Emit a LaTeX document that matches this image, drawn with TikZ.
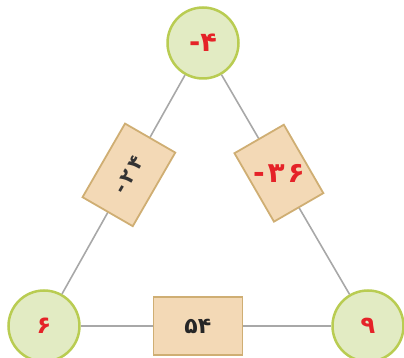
\documentclass[tikz,border=0pt]{standalone}
\usepackage{fontspec}
\newfontfamily\fanum[Script=Arabic]{DejaVu Sans}
\usetikzlibrary{calc}
\definecolor{ringfill}{HTML}{E2EBC3}
\definecolor{ringdraw}{HTML}{B9CC52}
\definecolor{cardfill}{HTML}{F3D9B6}
\definecolor{carddraw}{HTML}{CFAE73}
\definecolor{numred}{HTML}{E52228}
\definecolor{edgegray}{HTML}{A8A8A8}
\tikzset{
  vert/.style={circle,draw=ringdraw,fill=ringfill,line width=2.5pt,minimum size=71pt,inner sep=0pt,font=\fanum\bfseries\fontsize{27}{27}\selectfont,text=numred},
  card/.style={rectangle,draw=carddraw,fill=cardfill,line width=1.8pt,inner sep=0pt},
  edge/.style={draw=edgegray,line width=1.6pt},
  cardtext/.style={font=\fanum\bfseries\fontsize{28}{28}\selectfont}
}
\begin{document}
\begin{tikzpicture}[x=1pt,y=-1pt]
\useasboundingbox (0,0) rectangle (404,358);
\node[vert] (t) at (203,43) {\mbox{-}\mbox{۴}};
\node[vert,font=\fanum\bfseries\fontsize{24}{24}\selectfont] (l) at (44,326) {۶};
\node[vert,font=\fanum\bfseries\fontsize{24}{24}\selectfont] (r) at (368,326) {۹};
\draw[edge] (t)--(l);
\draw[edge] (t)--(r);
\draw[edge] (l)--(r);
\node[card,minimum width=85pt,minimum height=58pt,rotate=60,text=black!80,font=\fanum\bfseries\fontsize{20}{20}\selectfont] (tl) at ($(t)!.466!(l)$) {\mbox{-}\,\mbox{۲}\,\mbox{۴}};
\node[card,minimum width=79pt,minimum height=57pt,rotate=-60] (tr) at ($(t)!.46!(r)$) {};
\node[cardtext,text=numred] (trtext) at (tr.center) {\mbox{-}\hspace{3pt}\mbox{۳}\hspace{3pt}\mbox{۶}};
\node[card,minimum width=89pt,minimum height=58pt,text=black!85,font=\fanum\bfseries\fontsize{22}{22}\selectfont] (lr) at ($(l)!.475!(r)$) {۵۴};
\end{tikzpicture}
\end{document}
